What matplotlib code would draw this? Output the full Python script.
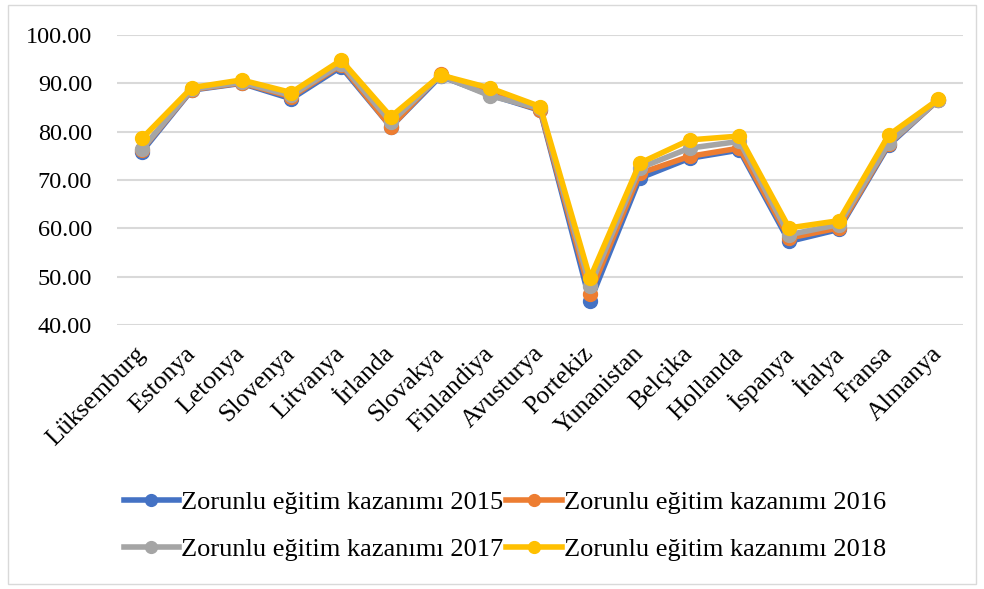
import matplotlib.pyplot as plt
from matplotlib.patches import Rectangle

plt.rcParams['font.family'] = ['Liberation Serif', 'DejaVu Serif']

countries = ['Lüksemburg', 'Estonya', 'Letonya', 'Slovenya', 'Litvanya', 'İrlanda',
             'Slovakya', 'Finlandiya', 'Avusturya', 'Portekiz', 'Yunanistan', 'Belçika',
             'Hollanda', 'İspanya', 'İtalya', 'Fransa', 'Almanya']

y2015 = [75.9, 88.6, 90.0, 86.8, 93.4, 81.0, 91.5, 87.6, 84.4, 44.9, 70.4, 74.5, 76.2, 57.3, 59.8, 77.2, 86.6]
y2016 = [76.3, 88.7, 90.1, 87.2, 93.8, 81.0, 91.9, 87.8, 84.5, 46.5, 71.4, 74.9, 76.6, 58.0, 60.1, 77.5, 86.6]
y2017 = [76.4, 88.8, 90.2, 87.5, 94.0, 82.0, 91.6, 87.4, 84.8, 48.0, 72.5, 76.6, 78.0, 58.7, 60.8, 77.6, 86.6]
y2018 = [78.6, 89.1, 90.7, 88.1, 94.8, 83.1, 91.7, 89.0, 85.2, 49.7, 73.5, 78.3, 79.1, 60.1, 61.6, 79.3, 86.7]

series = [
    ('Zorunlu eğitim kazanımı 2015', y2015, '#4472C4'),
    ('Zorunlu eğitim kazanımı 2016', y2016, '#ED7D31'),
    ('Zorunlu eğitim kazanımı 2017', y2017, '#A5A5A5'),
    ('Zorunlu eğitim kazanımı 2018', y2018, '#FFC000'),
]

fig = plt.figure(figsize=(9.84, 5.89), dpi=100)
ax = fig.add_axes([0.119, 0.448, 0.860, 0.4926])

x = list(range(len(countries)))
lines = []
for label, vals, color in series:
    ln, = ax.plot(x, vals, color=color, lw=4, marker='o', markersize=10, label=label)
    lines.append(ln)

ax.set_xlim(-0.5, len(countries) - 0.5)
ax.set_ylim(40, 100)
ax.set_yticks(range(40, 101, 10))
ax.set_yticklabels([f'{v:.2f}' for v in range(40, 101, 10)], fontsize=17.5)
ax.set_xticks(x)
ax.set_xticklabels(countries, rotation=45, ha='right', va='center',
                   rotation_mode='anchor', fontsize=18.5)
ax.tick_params(axis='both', length=0, colors='#000000')
ax.tick_params(axis='y', pad=18)
ax.tick_params(axis='x', pad=18)
ax.grid(axis='y', color='#D9D9D9', lw=1.5)
ax.set_axisbelow(True)
for s in ax.spines.values():
    s.set_visible(False)

# row-major order: 2015, 2016 / 2017, 2018
order = [0, 2, 1, 3]
fig.legend([lines[i] for i in order], [series[i][0] for i in order],
           loc='center', bbox_to_anchor=(0.513, 0.107), ncol=2, frameon=False,
           fontsize=19, handlelength=2.1, handletextpad=0.08, columnspacing=0.1,
           labelspacing=0.88, markerscale=0.85)

fig.patches.append(Rectangle((0.008, 0.008), 0.984, 0.984, transform=fig.transFigure,
                             fill=False, edgecolor='#D9D9D9', lw=1))

fig.savefig('out.png', dpi=100)
